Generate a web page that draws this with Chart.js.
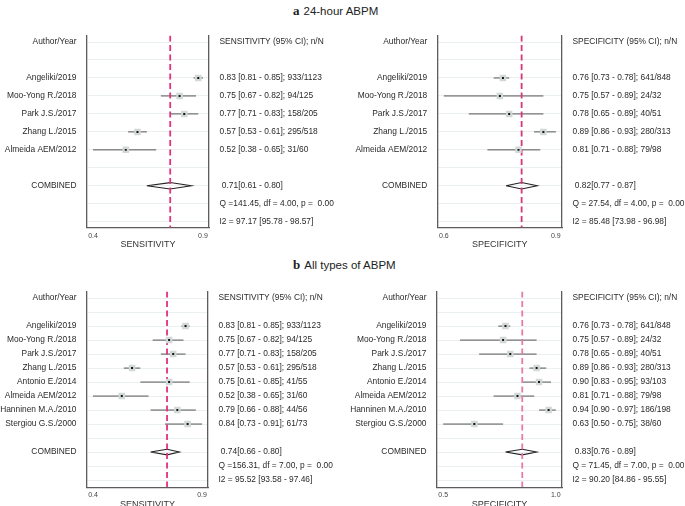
<!DOCTYPE html>
<html>
<head>
<meta charset="utf-8">
<script src="https://cdn.jsdelivr.net/npm/chart.js@4/dist/chart.umd.min.js"></script>
<style>
  body { margin: 0; width: 685px; height: 506px; overflow: hidden; position: relative; background: #fff; }
  canvas { position: absolute; }
  .title { position: absolute; font-family: 'Liberation Sans', Arial, sans-serif; font-size: 11.5px; color: #222; white-space: nowrap; line-height: 14px; }
  .title b { font-family: 'Liberation Serif', 'Times New Roman', serif; font-size: 13px; margin-right: 4px; }
</style>
</head>
<body>
<div class="title" style="left:293px; top:4px;"><b>a</b>24-hour ABPM</div>
<div class="title" style="left:293px; top:258px;"><b>b</b>All types of ABPM</div>
<canvas id="sens24" width="340" height="231" style="left:0; top:20px;"></canvas>
<canvas id="spec24" width="345" height="231" style="left:340px; top:20px;"></canvas>
<canvas id="sensAll" width="340" height="235" style="left:0; top:276px;"></canvas>
<canvas id="specAll" width="345" height="235" style="left:340px; top:276px;"></canvas>
<script>
// Forest plots (Meta-DiSc)

const authors24 = ['Angeliki/2019', 'Moo-Yong R./2018', 'Park J.S./2017', 'Zhang L./2015', 'Almeida AEM/2012'];
const authorsAll = ['Angeliki/2019', 'Moo-Yong R./2018', 'Park J.S./2017', 'Zhang L./2015',
    'Antonio E./2014', 'Almeida AEM/2012', 'Hanninen M.A./2010', 'Stergiou G.S./2000'];

// a - 24-hour ABPM, sensibilité
const sens24 = [0.83, 0.75, 0.77, 0.57, 0.52];
const sens24Lo = [0.81, 0.67, 0.71, 0.53, 0.38];
const sens24Hi = [0.85, 0.82, 0.83, 0.61, 0.65];
const sens24N = ['933/1123', '94/125', '158/205', '295/518', '31/60'];
const sens24Pooled = [0.71, 0.61, 0.80];      // estimation, IC bas, IC haut
const sens24Q = [141.45, 4.00, 0.00];         // Q, df, p
const sens24I2 = [97.17, 95.78, 98.57];
const sens24Ticks = ['0.4', '0.9'];

// a - 24-hour ABPM, spécificité
const spec24 = [0.76, 0.75, 0.78, 0.89, 0.81];
const spec24Lo = [0.73, 0.57, 0.65, 0.86, 0.71];
const spec24Hi = [0.78, 0.89, 0.89, 0.93, 0.88];
const spec24N = ['641/848', '24/32', '40/51', '280/313', '79/98'];
const spec24Pooled = [0.82, 0.77, 0.87];
const spec24Q = [27.54, 4.00, 0.00];
const spec24I2 = [85.48, 73.98, 96.98];
const spec24Ticks = ['0.6', '0.9'];

// b - tous types d'ABPM, sensibilité
const sensAll = [0.83, 0.75, 0.77, 0.57, 0.75, 0.52, 0.79, 0.84];
const sensAllLo = [0.81, 0.67, 0.71, 0.53, 0.61, 0.38, 0.66, 0.73];
const sensAllHi = [0.85, 0.82, 0.83, 0.61, 0.85, 0.65, 0.88, 0.91];
const sensAllN = ['933/1123', '94/125', '158/205', '295/518', '41/55', '31/60', '44/56', '61/73'];
const sensAllPooled = [0.74, 0.66, 0.80];
const sensAllQ = [156.31, 7.00, 0.00];
const sensAllI2 = [95.52, 93.58, 97.46];
const sensAllTicks = ['0.4', '0.9'];

// b - tous types d'ABPM, spécificité
const specAll = [0.76, 0.75, 0.78, 0.89, 0.90, 0.81, 0.94, 0.63];
const specAllLo = [0.73, 0.57, 0.65, 0.86, 0.83, 0.71, 0.90, 0.50];
const specAllHi = [0.78, 0.89, 0.89, 0.93, 0.95, 0.88, 0.97, 0.75];
const specAllN = ['641/848', '24/32', '40/51', '280/313', '93/103', '79/98', '186/198', '38/60'];
const specAllPooled = [0.83, 0.76, 0.89];
const specAllQ = [71.45, 7.00, 0.00];
const specAllI2 = [90.20, 84.86, 95.55];
const specAllTicks = ['0.5', '1.0'];

Chart.defaults.font.family = "'Liberation Sans', Arial, sans-serif";
Chart.defaults.color = '#2a2a2a';

const FRAME = '#5c5c5c';
const f2 = v => v.toFixed(2);

function makePanel(id, d, lay) {
    const n = d.est.length;
    const nRows = n + 6;
    const rowIdx = Array.from({ length: nRows }, (_, i) => i);
    const cRow = n + 3;

    const leftLabels = ['Author/Year', '', ...d.authors, '', 'COMBINED', '', ''];
    const rightLabels = [
        `${d.measure} (95% CI); n/N`, '',
        ...d.est.map((v, i) => `${f2(v)} [${f2(d.lo[i])} - ${f2(d.hi[i])}]; ${d.nN[i]}`),
        '',
        ` ${f2(d.pooled[0])}[${f2(d.pooled[1])} - ${f2(d.pooled[2])}]`,
        `Q =${f2(d.q[0]).padStart(6)}, df = ${f2(d.q[1])}, p = ${f2(d.q[2]).padStart(5)}`,
        `I2 = ${f2(d.i2[0])} [${f2(d.i2[1])} - ${f2(d.i2[2])}]`
    ];

    // axe x : du plus petit au plus grand IC, comme Meta-DiSc
    const xLo = Math.min(...d.lo);
    const xHi = Math.max(...d.hi);
    const pad = (xHi - xLo) * 0.055;
    const yMin = -lay.topOff;
    const yMax = nRows - 1 + lay.botOff;

    const points = d.est.map((v, i) => ({ x: v, y: i + 2 }));
    const h = lay.diamond;
    const [pe, pl, ph] = d.pooled;

    const whiskers = d.est.map((v, i) => ({
        type: 'scatter', showLine: true, pointRadius: 0,
        borderColor: '#555', borderWidth: 1,
        data: [{ x: d.lo[i], y: i + 2 }, { x: d.hi[i], y: i + 2 }]
    }));

    const labelFont = { size: 8.4 };

    new Chart(document.getElementById(id), {
        type: 'scatter',
        data: {
            datasets: [
                { data: points, pointStyle: 'rect', pointRadius: 1.4, backgroundColor: '#111', borderWidth: 0 },
                { data: points, pointStyle: 'rect', pointRadius: 4.6, backgroundColor: '#d2d8d8', borderWidth: 0 },
                {
                    showLine: true, pointRadius: 0, borderColor: lay.pink, borderWidth: 1.8, borderDash: [6, 3.5],
                    data: [{ x: pe, y: yMin }, { x: pe, y: yMax }]
                },
                {
                    showLine: true, pointRadius: 0, borderColor: '#222', borderWidth: 1.1,
                    data: [{ x: pl, y: cRow }, { x: pe, y: cRow - h }, { x: ph, y: cRow }, { x: pe, y: cRow + h }, { x: pl, y: cRow }]
                },
                ...whiskers
            ]
        },
        options: {
            responsive: false,
            animation: false,
            events: [],
            layout: { padding: { top: lay.padTop, left: 0, right: 0, bottom: 0 } },
            plugins: { legend: { display: false }, tooltip: { enabled: false } },
            scales: {
                x: {
                    type: 'linear',
                    position: 'bottom',
                    min: xLo - pad,
                    max: xHi + pad,
                    afterBuildTicks: s => { s.ticks = [{ value: xLo }, { value: xHi }]; },
                    afterFit: s => { s.height = lay.xAxisH; },
                    grid: { display: false, drawTicks: false },
                    border: { display: true, color: FRAME, width: 1.3 },
                    ticks: {
                        font: { size: 7 }, color: '#444', padding: 3.8, maxRotation: 0,
                        callback: (v, i) => d.ticks[i]
                    },
                    title: {
                        display: true, text: d.measure, font: { size: 9 }, color: '#333',
                        padding: { top: 0, bottom: lay.xAxisH - 5.4 - 17.2 }
                    }
                },
                y: {
                    type: 'linear',
                    position: 'left',
                    reverse: true,
                    min: yMin,
                    max: yMax,
                    afterBuildTicks: s => { s.ticks = rowIdx.map(v => ({ value: v })); },
                    afterFit: s => { s.width = lay.leftW; },
                    grid: { color: 'rgba(195,212,212,0.35)', lineWidth: 1, drawTicks: false },
                    border: { display: true, color: FRAME, width: 1.3 },
                    ticks: { font: labelFont, padding: 10.5, autoSkip: false, callback: v => leftLabels[v] }
                },
                y2: {
                    type: 'linear',
                    position: 'right',
                    reverse: true,
                    min: yMin,
                    max: yMax,
                    afterBuildTicks: s => { s.ticks = rowIdx.map(v => ({ value: v })); },
                    afterFit: s => { s.width = lay.rightW; },
                    grid: { display: true, drawOnChartArea: false, drawTicks: false },
                    border: { display: true, color: FRAME, width: 1.3 },
                    ticks: { font: labelFont, padding: 10.5, autoSkip: false, callback: v => rightLabels[v] }
                }
            }
        }
    });
}

const layA = { padTop: 11.7, xAxisH: 23.3, topOff: 0.36, botOff: 0.33, diamond: 0.18 };
const layB = { padTop: 13.3, xAxisH: 23.7, topOff: 0.47, botOff: 0.52, diamond: 0.2 };

makePanel('sens24', {
    measure: 'SENSITIVITY', authors: authors24, est: sens24, lo: sens24Lo, hi: sens24Hi, nN: sens24N,
    pooled: sens24Pooled, q: sens24Q, i2: sens24I2, ticks: sens24Ticks
}, { ...layA, leftW: 87, rightW: 131, pink: '#e5307f' });

makePanel('spec24', {
    measure: 'SPECIFICITY', authors: authors24, est: spec24, lo: spec24Lo, hi: spec24Hi, nN: spec24N,
    pooled: spec24Pooled, q: spec24Q, i2: spec24I2, ticks: spec24Ticks
}, { ...layA, leftW: 97.7, rightW: 123, pink: '#d9347a' });

makePanel('sensAll', {
    measure: 'SENSITIVITY', authors: authorsAll, est: sensAll, lo: sensAllLo, hi: sensAllHi, nN: sensAllN,
    pooled: sensAllPooled, q: sensAllQ, i2: sensAllI2, ticks: sensAllTicks
}, { ...layB, leftW: 87, rightW: 132, pink: '#e5307f' });

makePanel('specAll', {
    measure: 'SPECIFICITY', authors: authorsAll, est: specAll, lo: specAllLo, hi: specAllHi, nN: specAllN,
    pooled: specAllPooled, q: specAllQ, i2: specAllI2, ticks: specAllTicks
}, { ...layB, leftW: 97, rightW: 123, pink: '#e77aa6' });
</script>
</body>
</html>
